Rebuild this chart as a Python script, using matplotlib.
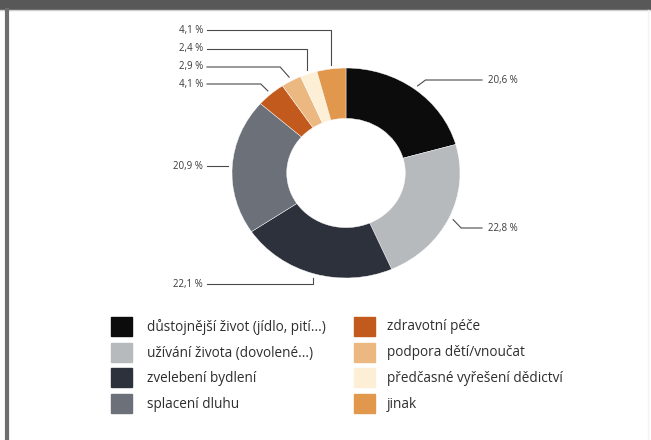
import matplotlib
matplotlib.use('Agg')
import matplotlib.pyplot as plt
from matplotlib.patches import Rectangle
import numpy as np

# shares of the money, clockwise from the top
categories = ['důstojnější život (jídlo, pití...)', 'užívání života (dovolené...)',
              'zvelebení bydlení', 'splacení dluhu', 'zdravotní péče',
              'podpora dětí/vnoučat', 'předčasné vyřešení dědictví', 'jinak']
values = [20.6, 22.8, 22.1, 20.9, 4.1, 2.9, 2.4, 4.1]
labels = ['20,6 %', '22,8 %', '22,1 %', '20,9 %', '4,1 %', '2,9 %', '2,4 %', '4,1 %']
colors = ['#0c0c0c', '#b6babd', '#2c313c', '#6b7079', '#c35a1d', '#ecb881', '#fcefd6', '#e1984c']

W, H = 651, 440
fig = plt.figure(figsize=(W / 100, H / 100), dpi=100)
fig.patch.set_facecolor('white')

# pie axes (slightly squashed like the scan)
px0, px1, py0, py1 = 232, 460, 68, 278
cx, cy = (px0 + px1) / 2, (py0 + py1) / 2
rx, ry = (px1 - px0) / 2, (py1 - py0) / 2
ax = fig.add_axes([px0 / W, 1 - py1 / H, (px1 - px0) / W, (py1 - py0) / H])
wedges, _ = ax.pie(values, colors=colors, startangle=90, counterclock=False,
                   radius=1, wedgeprops=dict(width=0.48, linewidth=0.3, edgecolor='white'))
ax.set_xlim(-1, 1)
ax.set_ylim(-1, 1)
ax.set_aspect('auto')
ax.axis('off')

# overlay in pixel coords for frame, leader lines and legend
ov = fig.add_axes([0, 0, 1, 1], zorder=5)
ov.set_xlim(0, W)
ov.set_ylim(H, 0)
ov.axis('off')
ov.patch.set_alpha(0)

ov.add_patch(Rectangle((0, 0), W, 9, color='#585858'))
ov.plot([0, W], [10, 10], color='#cfcfcf', lw=1)
ov.plot([6.5, 6.5], [10, H], color='#6e6e6e', lw=3)
ov.plot([648, 648], [10, H], color='#f2f2f2', lw=1)

# label layout: (label y, side, elbow offset)
lab_y = [80, 228, 284, 166, 84, 67, 49, 30]
side = ['r', 'r', 'l', 'l', 'l', 'l', 'l', 'l']
elbow_dx = [8, 8, 0, None, -7, -9, 0, 0]

for w, lab, ly, s, dx in zip(wedges, labels, lab_y, side, elbow_dx):
    ang = np.deg2rad((w.theta1 + w.theta2) / 2)
    axp = cx + rx * 1.04 * np.cos(ang)
    ayp = cy - ry * 1.04 * np.sin(ang)
    if s == 'r':
        ex = axp + dx
        ov.plot([axp, ex, 482], [ayp, ly, ly], color='#4a4a4a', lw=0.8)
        ov.text(488, ly, lab, fontsize=7, color='#3a3a3a', va='center', ha='left',
                family='Open Sans')
    else:
        if dx is None:
            ov.plot([207, axp], [ly, ly], color='#4a4a4a', lw=0.8)
        else:
            ex = axp + dx
            ov.plot([207, ex, axp], [ly, ly, ayp], color='#4a4a4a', lw=0.8)
        ov.text(203, ly, lab, fontsize=7, color='#3a3a3a', va='center', ha='right',
                family='Open Sans')

# legend
row_y = [327, 353, 378, 404]
col_x = [(111, 147), (354, 387)]
for i, (cat, c) in enumerate(zip(categories, colors)):
    sx, tx = col_x[i // 4]
    y = row_y[i % 4]
    ov.add_patch(Rectangle((sx, y - 9.5), 21, 19, color=c))
    ov.text(tx, y, cat, fontsize=9.8, color='#2e2e2e', va='center', ha='left',
            family='Open Sans')

fig.savefig('out.png', dpi=100)
